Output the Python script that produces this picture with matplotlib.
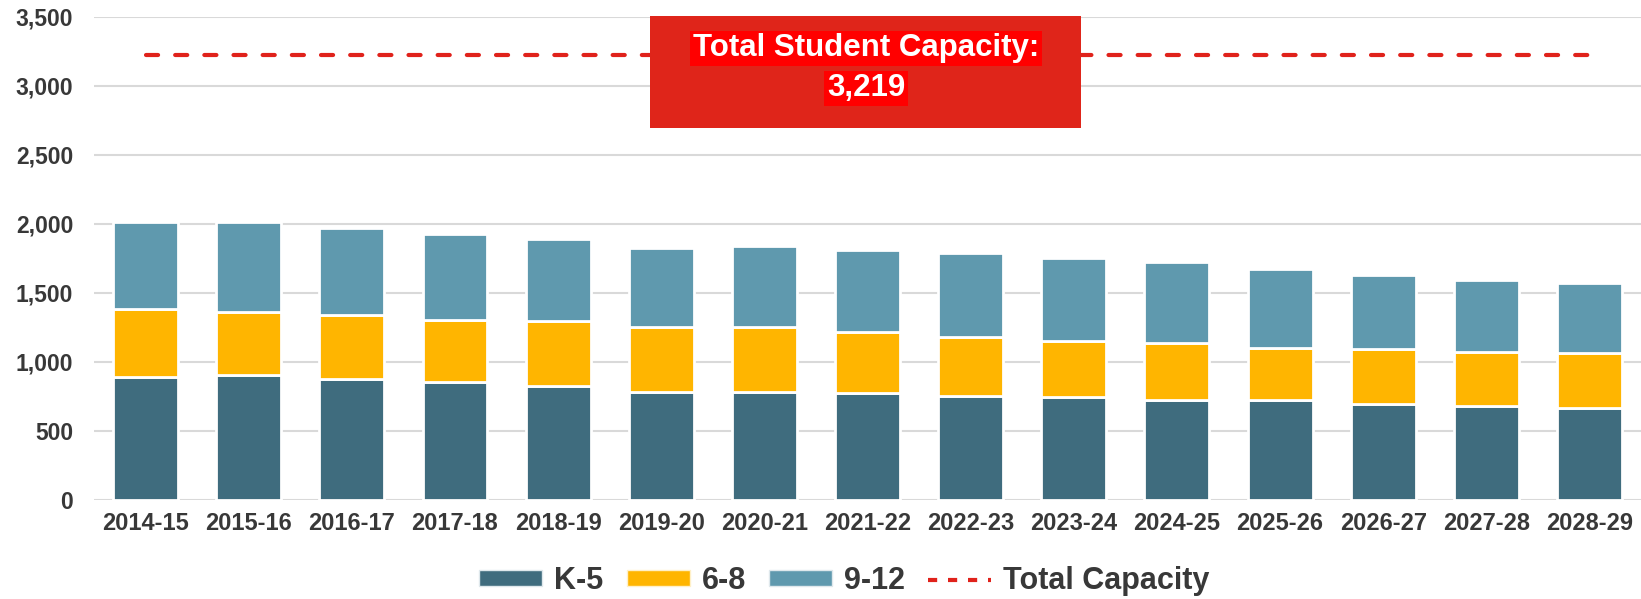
import matplotlib
matplotlib.use("Agg")
import matplotlib.pyplot as plt
from matplotlib.patches import Patch, Rectangle
from matplotlib.lines import Line2D
from matplotlib.ticker import FuncFormatter, MultipleLocator

years = ["2014-15", "2015-16", "2016-17", "2017-18", "2018-19", "2019-20", "2020-21",
         "2021-22", "2022-23", "2023-24", "2024-25", "2025-26", "2026-27", "2027-28", "2028-29"]
k5 = [889, 904, 876, 853, 823, 784, 782, 776, 752, 746, 726, 724, 695, 681, 669]
g68 = [492, 454, 466, 449, 470, 470, 471, 438, 430, 408, 413, 380, 400, 388, 393]
g912 = [634, 653, 630, 624, 597, 573, 586, 599, 609, 598, 582, 569, 534, 526, 512]
capacity = 3219
series_names = ["K-5", "6-8", "9-12"]
capacity_label = "Total Capacity"
box_title = "Total Student Capacity:"

c_k5 = "#3F6C7E"
c_68 = "#FFB500"
c_912 = "#5F99AE"
c_red = "#E0221B"
c_text = "#383838"

plt.rcParams["font.family"] = ["Liberation Sans", "DejaVu Sans"]
plt.rcParams["font.weight"] = "bold"

fig = plt.figure(figsize=(16.41, 5.99), dpi=100)
ax = fig.add_axes([0.0573, 0.1653, 0.9427, 0.807])

x = list(range(len(years)))
w = 0.63
bottom2 = [a + b for a, b in zip(k5, g68)]
ax.bar(x, k5, w, color=c_k5, edgecolor="white", linewidth=2, zorder=2)
ax.bar(x, g68, w, bottom=k5, color=c_68, edgecolor="white", linewidth=2, zorder=2)
ax.bar(x, g912, w, bottom=bottom2, color=c_912, edgecolor="white", linewidth=2, zorder=2)

ax.plot([x[0], x[-1]], [capacity, capacity], color=c_red, lw=3,
        dashes=(2.9, 4.1), dash_capstyle="round", zorder=3)

ax.set_xlim(-0.5, len(years) - 0.5)
ax.set_ylim(0, 3500)
ax.yaxis.set_major_locator(MultipleLocator(500))
ax.yaxis.set_major_formatter(FuncFormatter(lambda v, p: f"{int(v):,}"))
ax.set_xticks(x)
ax.set_xticklabels(years)
ax.tick_params(axis="both", length=0, colors=c_text)
ax.tick_params(axis="y", pad=15, labelsize=16.5)
ax.tick_params(axis="x", pad=9, labelsize=17)
for lab in ax.get_xticklabels() + ax.get_yticklabels():
    lab.set_fontweight("bold")
ax.yaxis.grid(True, color="#D9D9D9", linewidth=1.5)
ax.set_axisbelow(True)
for s in ax.spines.values():
    s.set_visible(False)

# annotation box
ax.add_patch(Rectangle((0.3594, 0.7697), 0.2786, 0.2317, transform=ax.transAxes,
                       facecolor="#DF251A", edgecolor="none", zorder=5, clip_on=False))
ax.text(0.499, 0.934, box_title, transform=ax.transAxes, ha="center", va="center",
        color="white", fontsize=22.5, fontweight="bold", zorder=6,
        bbox=dict(boxstyle="square,pad=0.08", facecolor="#FF0000", edgecolor="none"))
ax.text(0.499, 0.852, f"{capacity:,}", transform=ax.transAxes, ha="center", va="center",
        color="white", fontsize=22.5, fontweight="bold", zorder=6,
        bbox=dict(boxstyle="square,pad=0.08", facecolor="#FF0000", edgecolor="none"))

handles = [Patch(facecolor=c_k5, edgecolor="#dfe8ec", label=series_names[0]),
           Patch(facecolor=c_68, edgecolor="#fff0c8", label=series_names[1]),
           Patch(facecolor=c_912, edgecolor="#dfe8ec", label=series_names[2]),
           Line2D([0], [0], color=c_red, lw=3, dashes=(2.2, 2.6), label=capacity_label)]
leg = fig.legend(handles=handles, loc="center", bbox_to_anchor=(0.5146, 0.030), ncol=4,
                 frameon=False, prop=dict(size=22, weight="bold"), handlelength=2.06,
                 handleheight=0.43, handletextpad=0.4, columnspacing=0.75)
for t in leg.get_texts():
    t.set_color(c_text)

fig.savefig("out.png", dpi=100)
